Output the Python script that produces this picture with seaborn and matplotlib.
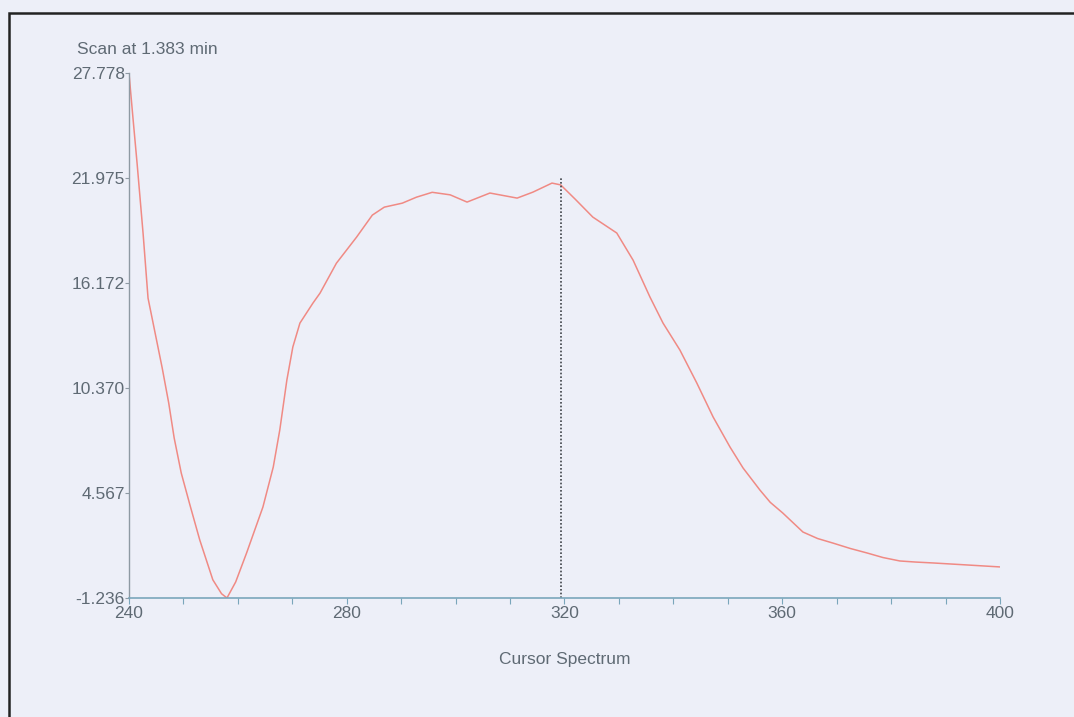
import matplotlib
matplotlib.use("Agg")
import matplotlib.pyplot as plt
import numpy as np
import pandas as pd
import seaborn as sns
from matplotlib.patches import Rectangle

# wavelength (nm) and absorbance
wavelength = [
    240.0, 240.7, 241.5, 242.6, 243.5, 244.8, 246.1, 247.3, 248.3, 249.6, 251.2,
    253.0, 255.4, 257.0, 258.0, 259.6, 261.6, 264.6, 266.5, 267.7, 269.0,
    270.1, 271.4, 273.8, 275.1, 278.1, 281.8, 284.7, 286.9, 290.2, 292.8, 295.7,
    299.0, 302.1, 306.3, 311.3, 314.2, 317.7, 319.3, 322.0, 325.2, 329.6,
    332.6, 335.7, 338.1, 341.2, 344.3, 347.3, 350.4, 352.8, 355.9, 357.8,
    360.1, 363.8, 366.5, 369.3, 372.5, 375.6, 378.5, 381.6, 384.5, 387.7,
    393.9, 400.0,
]
signal = [
    27.778, 25.40, 22.75, 18.88, 15.34, 13.41, 11.48, 9.54, 7.61, 5.67, 3.90,
    1.97, -0.23, -1.00, -1.236, -0.35, 1.25, 3.79, 6.00, 8.05, 10.81,
    12.64, 13.96, 15.07, 15.62, 17.27, 18.71, 19.93, 20.37, 20.59, 20.92, 21.19,
    21.05, 20.65, 21.15, 20.87, 21.20, 21.70, 21.60, 20.80, 19.82, 18.94,
    17.44, 15.40, 13.96, 12.47, 10.65, 8.77, 7.11, 5.95, 4.73, 4.05,
    3.46, 2.41, 2.05, 1.80, 1.50, 1.25, 1.00, 0.81, 0.75, 0.70,
    0.59, 0.48,
]

y_ticks = [-1.236, 4.567, 10.370, 16.172, 21.975, 27.778]
y_labels = ["-1.236", "4.567", "10.370", "16.172", "21.975", "27.778"]
x_ticks = [240, 280, 320, 360, 400]
x_minor = list(range(240, 401, 10))
cursor_x = 319.3
cursor_top = 21.975

BG = "#edeff8"
AXIS_GREY = "#8e99a3"
AXIS_BLUE = "#7aa6bb"
TEXT = "#5f6a74"


def main() -> None:
    sns.set_theme(style="white")
    plt.rcParams["font.family"] = ["Liberation Sans", "DejaVu Sans"]

    df = pd.DataFrame({"wavelength": wavelength, "signal": signal})

    fig = plt.figure(figsize=(10.74, 7.17), dpi=100, facecolor=BG)
    ax = fig.add_axes([0.1201, 0.166, 0.811, 0.732])
    ax.set_facecolor(BG)

    sns.lineplot(data=df, x="wavelength", y="signal", ax=ax,
                 color="#f08a84", lw=1.1, sort=False)
    ax.vlines(cursor_x, y_ticks[0], cursor_top, colors="#3e4348",
              linestyles=(0, (1, 1.2)), lw=1.2)

    ax.set_xlim(240, 400)
    ax.set_ylim(y_ticks[0], y_ticks[-1])
    ax.set_yticks(y_ticks)
    ax.set_yticklabels(y_labels)
    ax.set_xticks(x_ticks)
    ax.set_xticks(x_minor, minor=True)
    ax.tick_params(axis="y", direction="out", length=3, width=0.8,
                   color=AXIS_GREY, labelcolor=TEXT, labelsize=12.5, pad=0, left=True)
    ax.tick_params(axis="x", which="both", direction="out", length=4, width=0.8,
                   color=AXIS_BLUE, labelcolor=TEXT, labelsize=12.5, pad=2, bottom=True)
    ax.set_xlabel("Cursor Spectrum", color=TEXT, fontsize=12.5, labelpad=22)
    ax.set_ylabel("")

    for side in ("top", "right"):
        ax.spines[side].set_visible(False)
    ax.spines["left"].set_color(AXIS_GREY)
    ax.spines["left"].set_linewidth(1.0)
    ax.spines["bottom"].set_color(AXIS_BLUE)
    ax.spines["bottom"].set_linewidth(1.2)

    fig.text(77 / 1074, 1 - 49 / 717, "Scan at 1.383 min", color=TEXT,
             fontsize=12.5, ha="left", va="center")

    # printed page frame, cut off at the right and bottom by the scan
    fig.add_artist(Rectangle((9 / 1074, -0.1), 1.2, 1 - 13 / 717 + 0.1,
                             transform=fig.transFigure, fill=False,
                             edgecolor="#222222", lw=1.8))

    fig.savefig("out.png", dpi=100, facecolor=BG)
    plt.close(fig)


if __name__ == "__main__":
    main()
